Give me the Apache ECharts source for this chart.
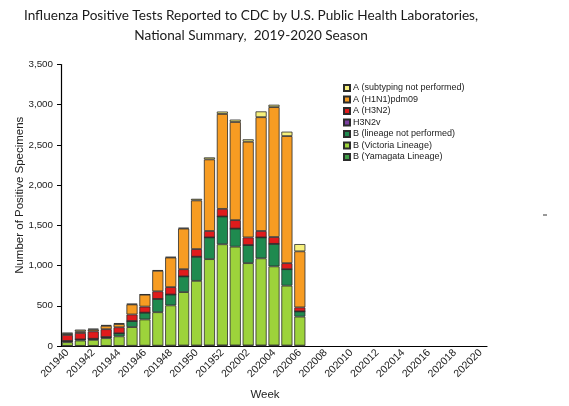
<!DOCTYPE html>
<html><head><meta charset="utf-8">
<script src="https://cdn.jsdelivr.net/npm/echarts/dist/echarts.min.js"></script>
<style>html,body{margin:0;padding:0;background:#fff}#c{width:569px;height:406px}</style>
</head><body><div id="c"></div>
<script>
// Categories (MMWR weeks)
const weeks = ['201940','201941','201942','201943','201944','201945','201946','201947','201948','201949','201950','201951','201952',
  '202001','202002','202003','202004','202005','202006','202007','202008','202009','202010','202011','202012','202013','202014',
  '202015','202016','202017','202018','202019','202020'];
// Series values (bottom to top of stack)
const bYamagata    = [2,2,2,2,2,3,4,4,5,6,6,7,8,7,7,7,7,6,5];
const bVictoria    = [45,66,74,95,118,232,326,416,500,664,804,1073,1257,1228,1023,1083,983,744,360];
const bLineageNP   = [15,14,14,14,38,75,85,165,135,195,300,270,345,225,225,260,280,205,65];
const aH3N2v       = [0,0,0,0,0,0,0,0,0,0,0,0,0,0,0,0,0,0,0];
const aH3N2        = [75,80,92,98,75,82,75,95,92,90,95,80,95,105,95,80,85,75,50];
const aH1N1        = [15,20,22,42,40,125,148,255,368,505,605,890,1180,1220,1190,1415,1615,1580,697];
const aNotSubtyped = [15,22,12,10,12,8,5,8,8,10,20,25,30,30,30,72,30,55,90];
const yTicks = [0,500,1000,1500,2000,2500,3000,3500];

const chart = echarts.init(document.getElementById('c'), null, {renderer:'canvas'});
const border = {borderColor:'#2b2b2b', borderWidth:0.8};
function s(name, data, color){
  return {name, type:'bar', stack:'all', data, barCategoryGap:'14%',
    itemStyle:Object.assign({color}, border), emphasis:{disabled:true}};
}
const series = [
  s('B (Yamagata Lineage)', bYamagata, '#3f9e47'),
  s('B (Victoria Lineage)', bVictoria, '#9dd33b'),
  s('B (lineage not performed)', bLineageNP, '#1f8a4f'),
  s('H3N2v', aH3N2v, '#7b3fa0'),
  s('A (H3N2)', aH3N2, '#e01b1c'),
  s('A (H1N1)pdm09', aH1N1, '#f79c22'),
  s('A (subtyping not performed)', aNotSubtyped, '#f6f07c')
];
const font = 'Liberation Sans, Arial, sans-serif';
chart.setOption({
  animation:false,
  textStyle:{fontFamily:font},
  graphic:[
    {type:'text', x:251, y:9, style:{text:'Influenza Positive Tests Reported to CDC by U.S. Public Health Laboratories,', font:'13.6px Lato', fill:'#1a1a1a', textAlign:'center'}},
    {type:'text', x:251, y:29, style:{text:'National Summary,  2019-2020 Season', font:'13.6px Lato', fill:'#1a1a1a', textAlign:'center'}},
    {type:'line', shape:{x1:543, y1:215, x2:547, y2:215}, style:{stroke:'#333', lineWidth:1}}
  ],
  legend:{
    orient:'vertical', left:338, top:78,
    data:['A (subtyping not performed)','A (H1N1)pdm09','A (H3N2)','H3N2v','B (lineage not performed)','B (Victoria Lineage)','B (Yamagata Lineage)'],
    itemWidth:6, itemHeight:6, itemGap:1.5, icon:'rect',
    textStyle:{fontSize:9, lineHeight:10, color:'#222', fontFamily:font, padding:[0,0,0,-2]}
  },
  grid:{left:61, right:82, top:64.5, bottom:57, containLabel:false},
  xAxis:{
    type:'category', data:weeks, boundaryGap:true,
    name:'Week', nameLocation:'middle', nameGap:43,
    nameTextStyle:{fontSize:11.5, color:'#222', padding:[0,18,0,0]},
    axisLine:{lineStyle:{color:'#000', width:1.2}},
    axisTick:{interval:0, length:4, lineStyle:{color:'#000'}},
    axisLabel:{interval:1, rotate:45, fontSize:10.5, color:'#222', margin:5}
  },
  yAxis:{
    type:'value', min:0, max:3500, interval:500,
    name:'Number of Positive Specimens', nameLocation:'middle', nameGap:35, nameMoveOverlap:false,
    nameTextStyle:{fontSize:11.5, color:'#222', padding:[0,0,0,20]},
    axisLine:{show:true, lineStyle:{color:'#000', width:1.2}},
    axisTick:{show:true, length:4, lineStyle:{color:'#000'}},
    splitLine:{show:false},
    axisLabel:{fontSize:9.8, color:'#222', margin:8,
      formatter:v => yTicks.includes(v) ? v.toLocaleString('en-US') : ''}
  },
  series
});
</script></body></html>
